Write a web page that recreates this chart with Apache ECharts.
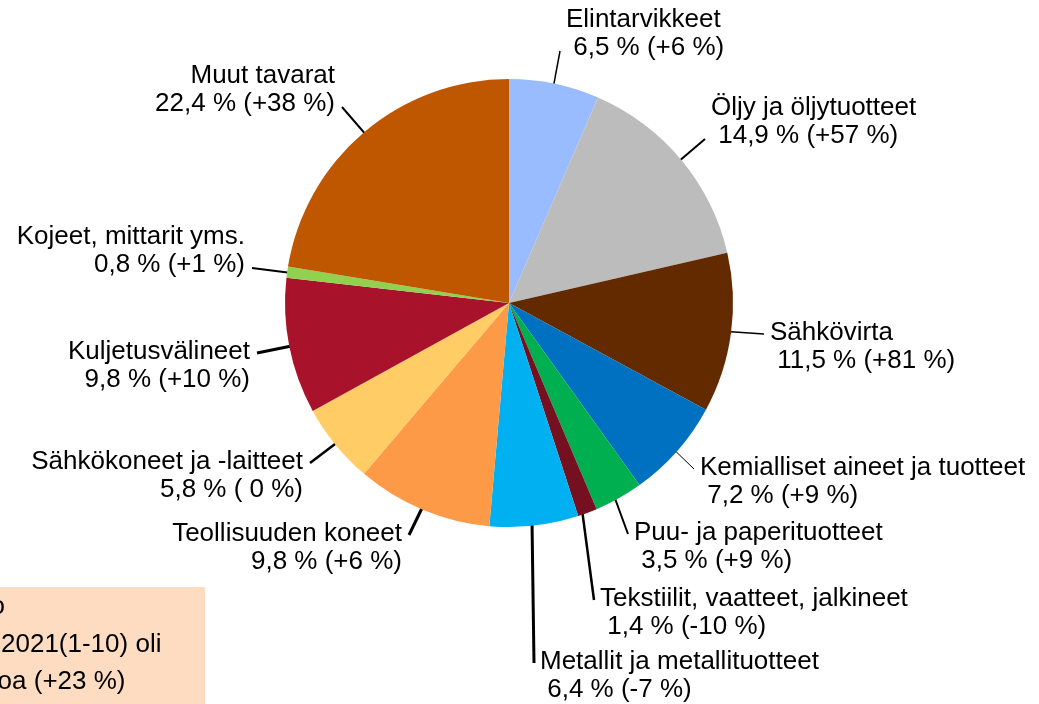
<!DOCTYPE html>
<html>
<head>
<meta charset="utf-8">
<script src="https://cdn.jsdelivr.net/npm/echarts@6/dist/echarts.min.js"></script>
<style>
html,body{margin:0;padding:0;background:#fff;}
#pie_chart{width:1039px;height:704px;}
</style>
</head>
<body>
<div id="pie_chart"></div>
<script>
// tavararyhmät myötäpäivään klo 12:sta alkaen
var categories = ['Elintarvikkeet', 'Öljy ja öljytuotteet', 'Sähkövirta', 'Kemialliset aineet ja tuotteet',
	'Puu- ja paperituotteet', 'Tekstiilit, vaatteet, jalkineet', 'Metallit ja metallituotteet',
	'Teollisuuden koneet', 'Sähkökoneet ja -laitteet', 'Kuljetusvälineet', 'Kojeet, mittarit yms.', 'Muut tavarat'];
// osuus tuonnista, %
var shares = [6.5, 14.9, 11.5, 7.2, 3.5, 1.4, 6.4, 9.8, 5.8, 9.8, 0.8, 22.4];
// muutos edellisvuodesta, %
var changes = [6, 57, 81, 9, 9, -10, -7, 6, 0, 10, 1, 38];
var colors = ['#99bbff', '#bbbcbb', '#632a00', '#0070c0', '#00b050', '#741020',
	'#00b0f0', '#fc9a47', '#ffcc66', '#a8132b', '#92d050', '#be5700'];
var boxLines = ['arvo', '2021(1-10) oli', 'euroa (+23 %)'];

// nimilappujen paikat: [x, y, tasaus] ja viivojen paksuudet
var labelPos = [
	[566, 34, 'left'], [711, 122, 'left'], [770, 347, 'left'], [700, 482, 'left'],
	[634, 547, 'left'], [600, 613, 'left'], [540, 676, 'left'],
	[402, 548, 'right'], [303, 476, 'right'], [250, 366, 'right'], [245, 251, 'right'], [335, 90, 'right']
];
var lineWidths = [1.5, 2, 1.5, 1, 2, 2.5, 3, 3, 2.5, 3, 2, 2];

var cx = 509, cy = 303, R = 224;

function fmt(v){ return String(v).replace('.', ','); }
function fmtChange(c){ return c > 0 ? '+' + c : (c == 0 ? ' 0' : String(c)); }

// sektorin keskikulma (klo 12:sta myötäpäivään)
var total = shares.reduce(function(a, b){ return a + b; }, 0);
var midAngles = [];
var acc = 0;
shares.forEach(function(v){
	midAngles.push((acc + v / 2) / total * 2 * Math.PI);
	acc += v;
});

var pie_chart = echarts.init(document.getElementById('pie_chart'));

var pieData = categories.map(function(name, i){
	var right = labelPos[i][2] == 'left';
	return {
		name: name,
		value: shares[i],
		itemStyle: {color: colors[i]},
		labelLine: {lineStyle: {width: lineWidths[i]}},
		label: {
			formatter: name + '\n' + (right ? ' ' : '') + fmt(shares[i]) + ' % (' + fmtChange(changes[i]) + ' %)'
		}
	};
});

var font = 'Arial, "Liberation Sans", sans-serif';

var option = {
	backgroundColor: '#fff',
	animation: false,
	graphic: [
		{type: 'rect', shape: {x: -10, y: 587, width: 215, height: 130}, style: {fill: '#fddcc1'}, z: 0},
		{type: 'text', x: 5, y: 620, style: {text: boxLines[0], align: 'right', verticalAlign: 'bottom', font: '26px ' + font, fill: '#000'}},
		{type: 'text', x: 1, y: 658, style: {text: boxLines[1], align: 'left', verticalAlign: 'bottom', font: '26px ' + font, fill: '#000'}},
		{type: 'text', x: -40, y: 695, style: {text: boxLines[2], align: 'left', verticalAlign: 'bottom', font: '26px ' + font, fill: '#000'}}
	],
	series: [{
		type: 'pie',
		center: [cx, cy],
		radius: R,
		startAngle: 90,
		clockwise: true,
		avoidLabelOverlap: false,
		itemStyle: {borderWidth: 0},
		label: {
			show: true,
			position: 'outside',
			color: '#000',
			fontFamily: font,
			fontSize: 26,
			lineHeight: 28
		},
		labelLine: {
			show: true,
			length: 20,
			length2: 0,
			lineStyle: {color: '#000', width: 1.5}
		},
		labelLayout: function(params){
			var i = params.dataIndex;
			var p = labelPos[i];
			var a = midAngles[i];
			var sx = cx + 0.9 * R * Math.sin(a);
			var sy = cy - 0.9 * R * Math.cos(a);
			var ex = p[2] == 'left' ? p[0] - 6 : p[0] + 7;
			var ey = sy > p[1] ? p[1] + 17 : p[1] - 13;
			return {
				x: p[0], y: p[1], align: p[2], verticalAlign: 'middle',
				labelLinePoints: [[sx, sy], [ex, ey], [ex, ey]]
			};
		},
		emphasis: {disabled: true},
		data: pieData
	}]
};

pie_chart.setOption(option);
</script>
</body>
</html>
